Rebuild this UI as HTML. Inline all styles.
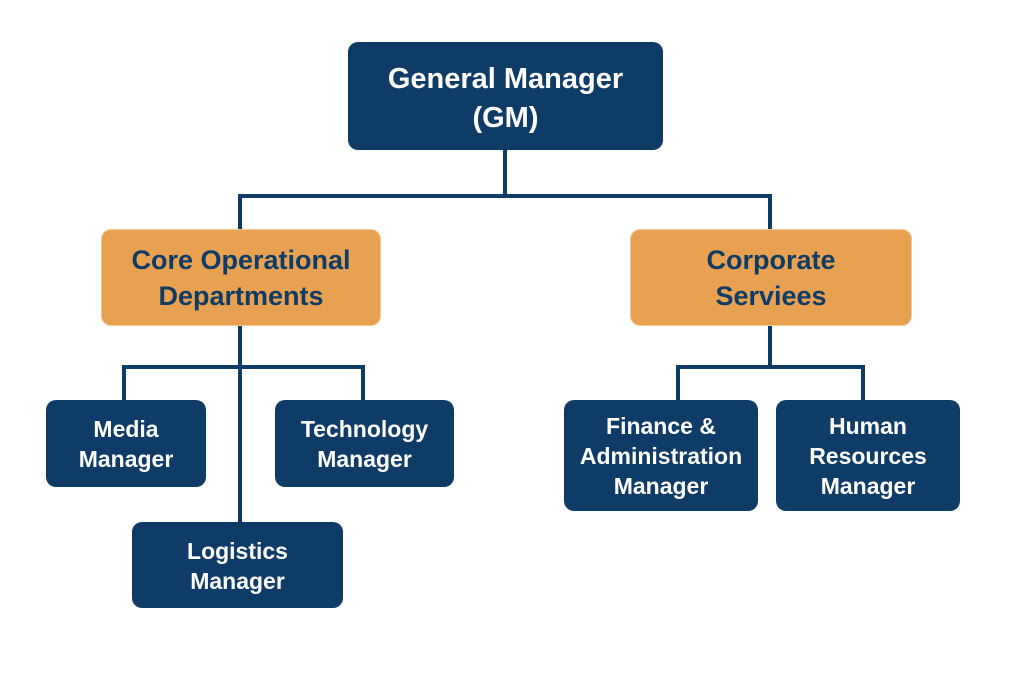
<!DOCTYPE html>
<html><head><meta charset="utf-8"><style>
html,body{margin:0;padding:0;background:#fff;}
body{width:1024px;height:683px;position:relative;overflow:hidden;font-family:"Liberation Sans",sans-serif;}
.b{position:absolute;box-sizing:border-box;display:flex;align-items:center;justify-content:center;text-align:center;font-weight:bold;border-radius:10px;}
.n{background:#0f3c66;color:#fff;font-size:23px;line-height:30px;}
.o{background:#e8a151;color:#0f3c66;font-size:27px;line-height:36px;border:1px solid #f3c99a;}
</style></head><body>
<svg width="1024" height="683" style="position:absolute;left:0;top:0">
<g stroke="#0f3c66" stroke-width="4" fill="none">
<path d="M505 150V196M240 196H770M240 194V229M770 194V229"/>
<path d="M240 326V522M124 367H363M124 365V400M363 365V400"/>
<path d="M770 326V367M678 367H863M678 365V400M863 365V400"/>
</g></svg>
<div class="b n" style="left:348px;top:42px;width:315px;height:108px;font-size:29px;line-height:39px;padding-top:6px;">General Manager<br>(GM)</div>
<div class="b o" style="left:101px;top:229px;width:280px;height:97px;">Core Operational<br>Departments</div>
<div class="b o" style="left:630px;top:229px;width:282px;height:97px;">Corporate<br>Serviees</div>
<div class="b n" style="left:46px;top:400px;width:160px;height:87px;">Media<br>Manager</div>
<div class="b n" style="left:275px;top:400px;width:179px;height:87px;">Technology<br>Manager</div>
<div class="b n" style="left:132px;top:522px;width:211px;height:86px;padding-top:2px;">Logistics<br>Manager</div>
<div class="b n" style="left:564px;top:400px;width:194px;height:111px;">Finance &amp;<br>Administration<br>Manager</div>
<div class="b n" style="left:776px;top:400px;width:184px;height:111px;">Human<br>Resources<br>Manager</div>
</body></html>
